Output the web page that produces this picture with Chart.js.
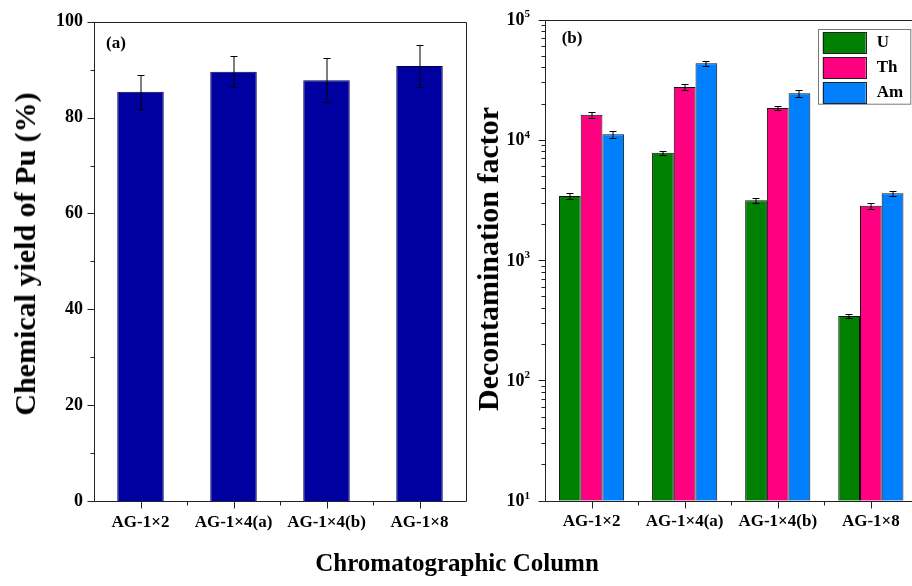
<!DOCTYPE html>
<html>
<head>
<meta charset="utf-8">
<script src="https://cdn.jsdelivr.net/npm/chart.js@4.4.1/dist/chart.umd.min.js"></script>
<style>
  html, body { margin: 0; padding: 0; background: #fff; }
  body { width: 912px; height: 586px; overflow: hidden; position: relative;
         font-family: "Liberation Serif", "Times New Roman", serif; }
  canvas { position: absolute; top: 0; }
  #chartA { left: 0; }
  #chartB { left: 470px; }
  .title { position: absolute; font-weight: bold; color: #000; white-space: nowrap; line-height: 1; }
  .vtitle { font-size: 30px; transform: translate(-50%, -50%) rotate(-90deg); }
  #yTitleA { left: 25px; top: 254px; }
  #yTitleB { left: 488px; top: 259px; }
  #xTitle { font-size: 25px; left: 457px; top: 550px; transform: translateX(-50%); }
</style>
</head>
<body>
<canvas id="chartA" width="470" height="586"></canvas>
<canvas id="chartB" width="450" height="586"></canvas>
<div class="title vtitle" id="yTitleA">Chemical yield of Pu (%)</div>
<div class="title vtitle" id="yTitleB">Decontamination factor</div>
<div class="title" id="xTitle">Chromatographic Column</div>

<script>
// ---- data ----
const categories = ['AG-1×2', 'AG-1×4(a)', 'AG-1×4(b)', 'AG-1×8'];

// (a) chemical yield of Pu, %
const puYield    = [85.4, 89.6, 87.8, 90.8];
const puYieldErr = [3.6, 3.3, 4.6, 4.4];
const yieldTicks = [0, 20, 40, 60, 80, 100];

// (b) decontamination factors
const seriesNames = ['U', 'Th', 'Am'];
const dfU     = [3410, 7810, 3140, 343];
const dfUErr  = [175, 320, 155, 14];
const dfTh    = [16170, 27480, 18380, 2830];
const dfThErr = [880, 1470, 760, 180];
const dfAm    = [11110, 43240, 24360, 3590];
const dfAmErr = [740, 2230, 1740, 160];
const dfExponents = [1, 2, 3, 4, 5];

// ---- styling ----
const SERIF = '"Liberation Serif", "Times New Roman", serif';
const AXIS_COLOR = '#222';
const NAVY = '#0000a0';
const seriesColors = ['#008000', '#ff0080', '#0080ff'];

Chart.defaults.font.family = SERIF;
Chart.defaults.color = '#000';
Chart.defaults.animation = false;

const crisp = v => Math.round(v) + 0.5;

// Box frame around the plot area plus outward major/minor tick marks.
const frameTicks = {
  id: 'frameTicks',
  afterDraw(chart, args, opts) {
    const { ctx, chartArea: a } = chart;
    const xs = chart.scales.x, ys = chart.scales.y;
    ctx.save();
    ctx.strokeStyle = AXIS_COLOR;
    ctx.lineWidth = 1;
    const L = crisp(a.left), R = crisp(a.right), T = crisp(a.top), B = crisp(a.bottom);
    ctx.beginPath();
    ctx.moveTo(L, T); ctx.lineTo(R, T); ctx.lineTo(R, B); ctx.lineTo(L, B); ctx.closePath();
    // y ticks
    opts.yMajor.forEach(v => { const y = crisp(ys.getPixelForValue(v)); ctx.moveTo(L - 7, y); ctx.lineTo(L, y); });
    opts.yMinor.forEach(v => { const y = crisp(ys.getPixelForValue(v)); ctx.moveTo(L - 4, y); ctx.lineTo(L, y); });
    // x ticks: major at category centres, minor between categories
    const n = chart.data.labels.length;
    for (let i = 0; i < n; i++) {
      const x = crisp(xs.getPixelForValue(i));
      ctx.moveTo(x, B); ctx.lineTo(x, B + 7);
      if (i < n - 1) {
        const xm = crisp((xs.getPixelForValue(i) + xs.getPixelForValue(i + 1)) / 2);
        ctx.moveTo(xm, B); ctx.lineTo(xm, B + 4);
      }
    }
    ctx.stroke();
    // panel tag
    ctx.fillStyle = '#000';
    ctx.font = 'bold 17px ' + SERIF;
    ctx.textAlign = 'left';
    ctx.textBaseline = 'middle';
    ctx.fillText(opts.tag, a.left + opts.tagDx, a.top + opts.tagDy);
    ctx.restore();
  }
};

// Vertical error bars drawn from each dataset's `errors` array.
const errorBars = {
  id: 'errorBars',
  afterDatasetsDraw(chart) {
    const { ctx } = chart;
    const ys = chart.scales.y;
    ctx.save();
    ctx.strokeStyle = '#000';
    ctx.lineWidth = 1;
    chart.data.datasets.forEach((ds, di) => {
      if (!ds.errors) return;
      chart.getDatasetMeta(di).data.forEach((bar, i) => {
        const v = ds.data[i], e = ds.errors[i];
        const x = Math.round(bar.x);
        const yt = crisp(ys.getPixelForValue(v + e));
        const yb = crisp(ys.getPixelForValue(v - e));
        ctx.beginPath();
        ctx.moveTo(x, yt); ctx.lineTo(x, yb);
        ctx.moveTo(x - 3.5, yt); ctx.lineTo(x + 3.5, yt);
        ctx.moveTo(x - 3.5, yb); ctx.lineTo(x + 3.5, yb);
        ctx.stroke();
      });
    });
    ctx.restore();
  }
};

// Power-of-ten labels for the logarithmic axis (10 with a raised exponent).
const logLabels = {
  id: 'logLabels',
  afterDraw(chart, args, opts) {
    const { ctx, chartArea: a } = chart;
    const ys = chart.scales.y;
    ctx.save();
    ctx.fillStyle = '#000';
    ctx.textBaseline = 'middle';
    ctx.textAlign = 'right';
    opts.exponents.forEach(k => {
      const y = ys.getPixelForValue(Math.pow(10, k));
      const xr = a.left - 15;
      ctx.font = 'bold 11px ' + SERIF;
      const ew = ctx.measureText(String(k)).width;
      ctx.fillText(String(k), xr, y - 5);
      ctx.font = 'bold 18px ' + SERIF;
      ctx.fillText('10', xr - ew, y + 1);
    });
    ctx.restore();
  }
};

// Legend box placed inside the plot area.
const boxLegend = {
  id: 'boxLegend',
  afterDraw(chart, args, opts) {
    const { ctx, chartArea: a } = chart;
    const bx = a.left + opts.dx, by = a.top + opts.dy;
    ctx.save();
    ctx.fillStyle = '#fff';
    ctx.fillRect(bx, by, opts.w, opts.h);
    ctx.strokeStyle = '#777';
    ctx.lineWidth = 1;
    ctx.strokeRect(crisp(bx), crisp(by), opts.w, opts.h);
    ctx.font = 'bold 17px ' + SERIF;
    ctx.textAlign = 'left';
    ctx.textBaseline = 'middle';
    chart.data.datasets.forEach((ds, i) => {
      const sy = by + 2.7 + i * 25;
      ctx.fillStyle = ds.backgroundColor;
      ctx.fillRect(bx + 5, sy, 43, 21.3);
      ctx.strokeStyle = '#222';
      ctx.strokeRect(crisp(bx + 5), crisp(sy), 43, 21);
      ctx.fillStyle = '#000';
      ctx.fillText(ds.label, bx + 59, sy + 11);
    });
    ctx.restore();
  }
};

const catAxis = (height) => ({
  type: 'category',
  grid: { display: false, drawTicks: false, offset: true },
  border: { display: false },
  ticks: { font: { size: 17, weight: 'bold' }, color: '#000', padding: 11,
           maxRotation: 0, minRotation: 0, autoSkip: false },
  afterFit(s) { s.height = height; }
});

// ---- (a) chemical yield ----
const yieldMinor = yieldTicks.slice(0, -1).map((v, i) => (v + yieldTicks[i + 1]) / 2);

new Chart(document.getElementById('chartA'), {
  type: 'bar',
  data: {
    labels: categories,
    datasets: [{
      label: 'Pu',
      data: puYield,
      errors: puYieldErr,
      backgroundColor: NAVY,
      borderColor: '#000050',
      borderWidth: 1,
      categoryPercentage: 0.5,
      barPercentage: 1.0
    }]
  },
  options: {
    responsive: false,
    devicePixelRatio: 1,
    layout: { padding: { left: 0, top: 19, right: 4, bottom: 0 } },
    plugins: {
      legend: { display: false },
      tooltip: { enabled: false },
      frameTicks: { yMajor: yieldTicks, yMinor: yieldMinor, tag: '(a)', tagDx: 12, tagDy: 22 }
    },
    scales: {
      x: catAxis(85),
      y: {
        min: 0, max: 100,
        grid: { display: false, drawTicks: false },
        border: { display: false },
        ticks: { stepSize: 20, font: { size: 18, weight: 'bold' }, color: '#000', padding: 11 },
        afterFit(s) { s.width = 94; }
      }
    }
  },
  plugins: [errorBars, frameTicks]
});

// ---- (b) decontamination factors ----
const dfSeries = [dfU, dfTh, dfAm];
const dfErrors = [dfUErr, dfThErr, dfAmErr];
const logMajor = dfExponents.map(k => Math.pow(10, k));
const logMinor = [];
dfExponents.slice(0, -1).forEach(k => { for (let m = 2; m <= 9; m++) logMinor.push(m * Math.pow(10, k)); });

new Chart(document.getElementById('chartB'), {
  type: 'bar',
  data: {
    labels: categories,
    datasets: seriesNames.map((name, i) => ({
      label: name,
      data: dfSeries[i],
      errors: dfErrors[i],
      backgroundColor: seriesColors[i],
      borderColor: '#111',
      borderWidth: 1,
      categoryPercentage: 0.7,
      barPercentage: 1.0
    }))
  },
  options: {
    responsive: false,
    devicePixelRatio: 1,
    layout: { padding: { left: 0, top: 19.5, right: 2.6, bottom: 0 } },
    plugins: {
      legend: { display: false },
      tooltip: { enabled: false },
      frameTicks: { yMajor: logMajor, yMinor: logMinor, tag: '(b)', tagDx: 16.7, tagDy: 19.5 },
      logLabels: { exponents: dfExponents },
      boxLegend: { dx: 272.7, dy: 9.8, w: 92.3, h: 74.7 }
    },
    scales: {
      x: catAxis(85.3),
      y: {
        type: 'logarithmic',
        min: logMajor[0], max: logMajor[logMajor.length - 1],
        grid: { display: false, drawTicks: false },
        border: { display: false },
        ticks: { display: false },
        afterFit(s) { s.width = 75; }
      }
    }
  },
  plugins: [errorBars, frameTicks, logLabels, boxLegend]
});
</script>
</body>
</html>
